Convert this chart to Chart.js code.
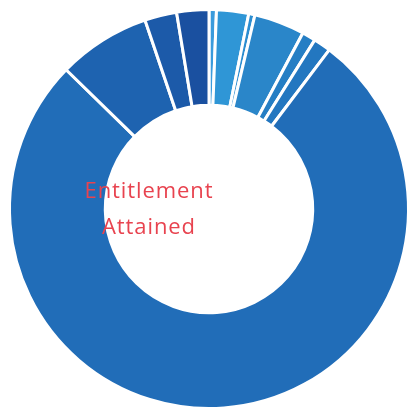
<!DOCTYPE html>
<html>
<head>
<meta charset="utf-8">
<script src="https://cdn.jsdelivr.net/npm/chart.js@4"></script>
<style>
    html, body {
        margin: 0;
        padding: 0;
        background: #ffffff;
        overflow: hidden;
        width: 407px;
        height: 407px;
    }
    #wrap {
        position: relative;
        width: 418px;
        height: 418px;
    }
    #centerText {
        position: absolute;
        left: 49px;
        top: 171px;
        width: 200px;
        text-align: center;
        font-family: "Open Sans", sans-serif;
        font-size: 22px;
        letter-spacing: 0.9px;
        line-height: 36px;
        color: #e8434f;
    }
</style>
</head>
<body>
<div id="wrap">
    <canvas id="entitlementChart" width="418" height="418"></canvas>
    <div id="centerText">Entitlement<br>Attained</div>
</div>
<script>
// Andelar per kategori (%)
const labels = [
    "Kategori 1", "Kategori 2", "Kategori 3", "Kategori 4", "Kategori 5",
    "Kategori 6", "Kategori 7", "Kategori 8", "Kategori 9", "Kategori 10"
];

const values = [0.6, 2.6, 0.5, 4.1, 1.1, 1.4, 77.0, 7.5, 2.6, 2.6];

const sliceColors = [
    "#3a9bdc", "#2f96d6", "#2b8dd0", "#2a86c9", "#257ec4",
    "#2377c0", "#216db8", "#1e63b0", "#1c5aa9", "#1a50a0"
];

const canvas = document.getElementById("entitlementChart");

new Chart(canvas, {
    type: "doughnut",
    data: {
        labels: labels,
        datasets: [{
            data: values,
            backgroundColor: sliceColors,
            borderColor: "#ffffff",
            borderWidth: 3
        }]
    },
    options: {
        responsive: false,
        animation: false,
        cutout: "52%",
        layout: {
            padding: 8
        },
        plugins: {
            legend: { display: false },
            tooltip: { enabled: false }
        }
    }
});
</script>
</body>
</html>
